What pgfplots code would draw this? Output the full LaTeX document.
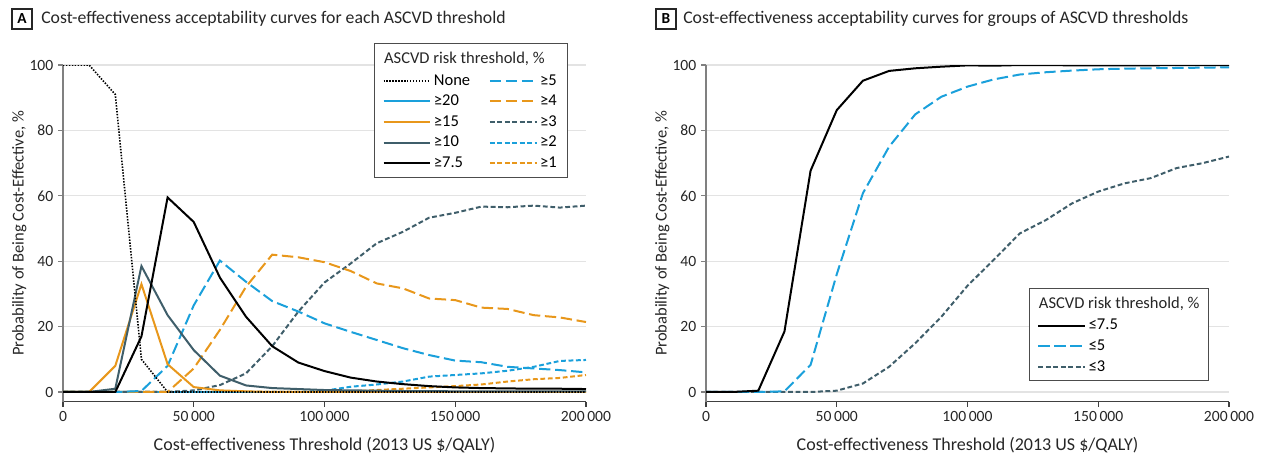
\documentclass[border=0pt]{standalone}
\usepackage{pgfplots}
\pgfplotsset{compat=1.18}
\usepackage{pgfplotstable}
\usepackage{fontspec}
\setmainfont{Carlito}
\definecolor{jblue}{HTML}{1AA0DB}
\definecolor{jorange}{HTML}{E8971B}
\definecolor{jslate}{HTML}{3F5E6A}
\definecolor{gridgray}{HTML}{E3E3E3}

\pgfplotstableread{
x none g20 g15 g10 g75 g5 g4 g3 g2 g1
0 100 0 0 0 0 0 0 0 0 0
10000 100 0 0 0 0 0 0 0 0 0
20000 91 0 8 1 0 0 0 0 0 0
30000 10 0 33 38.5 17 0.3 0 0 0 0
40000 0 0 8.5 23.5 59.5 8 0 0 0 0
50000 0 0 1.5 12.8 52 26.5 7.2 0.5 0 0
60000 0 0 0.5 5 35 40.2 19 2.1 0 0
70000 0 0 0.2 2 23 33.7 32.2 5.7 0 0
80000 0 0 0 1.2 14 27.8 42 14 0 0
90000 0 0 0 0.9 9 24.6 41.2 24.6 0 0
100000 0 0 0 0.6 6.4 21 39.7 33.5 0.4 0
110000 0 0 0 0.5 4.4 18.4 37 39.3 1.6 0.2
120000 0 0 0 0.4 3.2 15.9 33.2 45.5 2.3 0.6
130000 0 0 0 0.3 2.4 13.4 31.7 49 3.2 1.0
140000 0 0 0 0.3 1.8 11.3 28.6 53.3 4.7 1.4
150000 0 0 0 0.2 1.4 9.6 28.1 54.8 5.2 1.8
160000 0 0 0 0.2 1.2 9.1 25.8 56.7 5.7 2.3
170000 0 0 0 0.2 1.1 7.7 25.4 56.5 6.5 3.2
180000 0 0 0 0.2 1.0 7.2 23.5 57 7.7 3.9
190000 0 0 0 0.2 1.0 6.7 22.8 56.4 9.5 4.3
200000 0 0 0 0.2 0.9 6 21.4 57 9.8 5.2
}\tableA

\pgfplotstableread{
x le75 le5 le3
0 0 0 0
10000 0 0 0
20000 0.4 0 0
30000 18.5 0.2 0
40000 67.7 8.3 0
50000 86.2 36 0.4
60000 95.2 60.8 2.6
70000 98.2 75 7.7
80000 99 84.9 14.9
90000 99.5 90.3 23
100000 99.9 93.4 32.5
110000 99.8 95.6 40.4
120000 100 97.1 48.5
130000 100 97.8 52.6
140000 99.9 98.3 57.7
150000 99.9 98.7 61.3
160000 99.9 98.9 63.8
170000 99.9 99 65.4
180000 100 99.1 68.5
190000 100 99.2 70
200000 100 99.3 72
}\tableB

\pgfplotsset{
  jama/.style={
    scale only axis, width=392.25pt, height=252.5pt,
    xmin=0, xmax=200000, ymin=-2.97, ymax=100,
    axis x line*=bottom, axis y line*=left,
    x axis line style={black!75, line width=0.9pt},
    y axis line style={black!50, line width=0.9pt},
    scaled x ticks=false,
    xtick={0,50000,100000,150000,200000},
    xticklabels={0,50\,000,100\,000,150\,000,200\,000},
    ytick={0,20,40,60,80,100},
    tick align=outside, major tick length=3.75pt,
    x tick style={black!75, line width=0.9pt},
    y tick style={black!50, line width=0.9pt},
    ymajorgrids, grid style={gridgray, line width=0.9pt},
    /pgf/number format/assume math mode=true,
    tick label style={font=\fontsize{11.7}{13}\selectfont, text=black!85},
    xlabel style={font=\fontsize{13.5}{15}\selectfont, text=black!85, yshift=-5pt},
    ylabel style={font=\fontsize{12.4}{14}\selectfont, text=black!85, yshift=-4.5pt},
    xlabel={Cost-effectiveness Threshold (2013 US \$/QALY)},
    ylabel={Probability of Being Cost-Effective, \%},
    legend image code/.code={\draw[##1] (0pt,0pt) -- (35pt,0pt);},
    legend cell align=left,
  },
  sol/.style={line width=1.5pt},
  ldash/.style={line width=1.5pt, dash pattern=on 8.5pt off 3.5pt},
  sdash/.style={line width=1.5pt, dash pattern=on 3.6pt off 2pt},
  dots/.style={line width=1.2pt, dash pattern=on 1.1pt off 1.1pt},
}

\begin{document}
\begin{tikzpicture}
\useasboundingbox (0,0) rectangle (948.75pt,-342.75pt);

% Panel A
\begin{axis}[jama, at={(47.25pt,-301.275pt)}, anchor=south west,
  legend columns=2,
  legend style={at={(0.9656,1.0653)}, anchor=north east, draw=black!70, line width=0.8pt, fill=white,
    font=\fontsize{12.4}{14}\selectfont, row sep=1.9pt, inner xsep=6pt, inner ysep=4pt,
    /tikz/every even column/.append style={column sep=12pt}},
]
\addplot[forget plot, jblue, sol] table[x=x,y=g20] {\tableA};
\addplot[forget plot, jorange, sdash] table[x=x,y=g1] {\tableA};
\addplot[forget plot, jblue, sdash] table[x=x,y=g2] {\tableA};
\addplot[forget plot, jslate, sdash] table[x=x,y=g3] {\tableA};
\addplot[forget plot, jorange, ldash] table[x=x,y=g4] {\tableA};
\addplot[forget plot, jblue, ldash] table[x=x,y=g5] {\tableA};
\addplot[forget plot, jorange, sol] table[x=x,y=g15] {\tableA};
\addplot[forget plot, jslate, sol] table[x=x,y=g10] {\tableA};
\addplot[forget plot, black, sol] table[x=x,y=g75] {\tableA};
\addplot[forget plot, black, dots] table[x=x,y=none] {\tableA};

\addlegendimage{legend image code/.code={\node[overlay,anchor=west,inner sep=0pt,text=black!85] at (0pt,0pt) {ASCVD risk threshold, \%};}}
\addlegendentry{\strut}
\addlegendimage{empty legend}\addlegendentry{}
\addlegendimage{black, dots}\addlegendentry{None}
\addlegendimage{jblue, ldash}\addlegendentry{≥5}
\addlegendimage{jblue, sol}\addlegendentry{≥20}
\addlegendimage{jorange, ldash}\addlegendentry{≥4}
\addlegendimage{jorange, sol}\addlegendentry{≥15}
\addlegendimage{jslate, sdash}\addlegendentry{≥3}
\addlegendimage{jslate, sol}\addlegendentry{≥10}
\addlegendimage{jblue, sdash}\addlegendentry{≥2}
\addlegendimage{black, sol}\addlegendentry{≥7.5}
\addlegendimage{jorange, sdash}\addlegendentry{≥1}
\end{axis}

% Panel B
\begin{axis}[jama, at={(529.5pt,-301.275pt)}, anchor=south west,
  legend style={at={(0.9623,0.3368)}, anchor=north east, draw=black!70, line width=0.8pt, fill=white,
    font=\fontsize{12.4}{14}\selectfont, row sep=2.1pt, inner xsep=6pt, inner ysep=3.5pt},
]
\addplot[forget plot, jslate, sdash] table[x=x,y=le3] {\tableB};
\addplot[forget plot, jblue, ldash] table[x=x,y=le5] {\tableB};
\addplot[forget plot, black, sol] table[x=x,y=le75] {\tableB};
\addlegendimage{legend image code/.code={\node[overlay,anchor=west,inner sep=0pt,text=black!85] at (0pt,0pt) {ASCVD risk threshold, \%};}}
\addlegendentry{\strut}
\addlegendimage{black, sol}\addlegendentry{\makebox[82pt][l]{≤7.5}}
\addlegendimage{jblue, ldash}\addlegendentry{≤5}
\addlegendimage{jslate, sdash}\addlegendentry{≤3}
\end{axis}

% Titles
\node[draw=black!85, line width=0.8pt, minimum size=15pt, inner sep=0pt, font=\fontsize{11.5}{13}\selectfont\bfseries] at (16.5pt,-14.25pt) {A};
\node[anchor=west, inner sep=0pt, font=\fontsize{13.3}{16}\selectfont, text=black!85] at (30.75pt,-14.25pt) {Cost-effectiveness acceptability curves for each ASCVD threshold};
\node[draw=black!85, line width=0.8pt, minimum size=15pt, inner sep=0pt, font=\fontsize{11.5}{13}\selectfont\bfseries] at (499.5pt,-14.25pt) {B};
\node[anchor=west, inner sep=0pt, font=\fontsize{13.3}{16}\selectfont, text=black!85] at (512.25pt,-14.25pt) {Cost-effectiveness acceptability curves for groups of ASCVD thresholds};
\end{tikzpicture}
\end{document}
